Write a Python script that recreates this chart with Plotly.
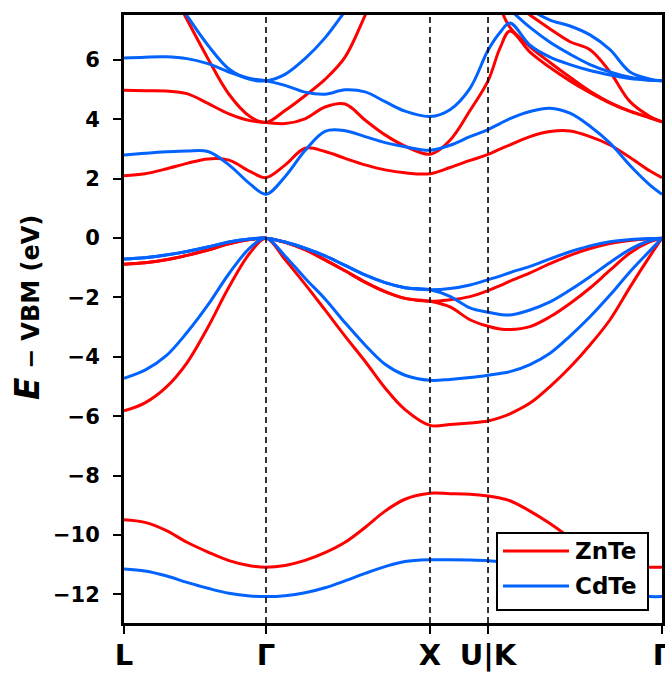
import plotly.graph_objects as go

N = None
# k-path coordinates (2*pi/a units) for the sampled points
k_path = [0.000, 0.128, 0.256, 0.384, 0.512, 0.640, 0.768, 0.866,
          0.982, 1.104, 1.226, 1.348, 1.470, 1.592, 1.714, 1.866,
          1.988, 2.110, 2.220, 2.293, 2.354, 2.476, 2.598, 2.720,
          2.842, 2.964, 3.086, 3.208, 3.281]

tick_pos = [0.0, 0.866, 1.866, 2.220, 3.281]
tick_text = ["L", "Γ", "X", "U|K", "Γ"]

# ZnTe bands (eV)
znte_s = [-9.49, -9.58, -9.85, -10.25, -10.58, -10.87, -11.04, -11.09,
          -11.03, -10.86, -10.6, -10.25, -9.75, -9.2, -8.8, -8.6,
          -8.61, -8.63, -8.69, -8.76, -8.85, -9.2, -9.62, -10.1,
          -10.55, -10.9, -11.05, -11.09, -11.09]
znte_v1 = [-5.82, -5.55, -5.03, -4.2, -3.0, -1.65, -0.5, 0,
           -0.72, -1.55, -2.42, -3.3, -4.15, -5.05, -5.78, -6.31,
           -6.28, -6.23, -6.16, -6.05, -5.92, -5.56, -5.0, -4.35,
           -3.6, -2.75, -1.65, -0.6, 0]
znte_v2 = [-0.88, -0.83, -0.73, -0.58, -0.40, -0.19, -0.05, 0,
           -0.14, -0.39, -0.73, -1.1, -1.48, -1.8, -2.03, -2.13,
           -2.32, -2.75, -2.97, -3.06, -3.08, -2.98, -2.65, -2.2,
           -1.68, -1.08, -0.5, -0.12, 0]
znte_v3 = [-0.88, -0.83, -0.73, -0.58, -0.40, -0.19, -0.05, 0,
           -0.14, -0.39, -0.73, -1.1, -1.48, -1.8, -2.03, -2.13,
           -2.08, -1.97, -1.77, -1.6, -1.45, -1.17, -0.86, -0.58,
           -0.35, -0.18, -0.08, -0.02, 0]
znte_c1 = [2.1, 2.17, 2.33, 2.52, 2.67, 2.63, 2.25, 2.04,
           2.46, 3.03, 2.92, 2.69, 2.47, 2.3, 2.2, 2.17,
           2.38, 2.62, 2.82, 3.0, 3.14, 3.42, 3.59, 3.61,
           3.42, 3.14, 2.72, 2.26, 2.04]
znte_c2 = [4.98, 4.97, 4.96, 4.87, 4.54, 4.19, 3.96, 3.9,
           3.86, 4.02, 4.42, 4.52, 3.98, 3.48, 3.1, 2.83,
           3.3, 4.3, 5.3, 6.4, 6.98, 6.27, 5.75, 5.3,
           4.9, 4.55, 4.27, 4.05, 3.92]
znte_c3 = [N, N, 8.7, 7.37, 6.05, 4.85, 4.1, 3.9,
           4.3, 4.8, 5.35, 6.1, 7.5, 9.0, N, N,
           N, N, N, N, N, N, N, N,
           N, N, N, N, N]
znte_c4 = [N, N, N, N, N, N, N, N,
           N, N, N, N, N, N, N, N,
           N, N, N, 7.8, 7.1, 6.45, 5.92, 5.42,
           4.95, 4.57, 4.28, 4.06, 3.92]
znte_c5 = [N, N, N, N, N, N, N, N,
           N, N, N, N, N, N, N, N,
           N, N, N, N, 8.0, 7.52, 7.05, 6.62,
           6.35, 5.6, 4.6, 4.1, 3.92]

# CdTe bands (eV)
cdte_s = [-11.15, -11.22, -11.38, -11.6, -11.8, -11.97, -12.06, -12.08,
          -12.05, -11.95, -11.78, -11.55, -11.3, -11.07, -10.9, -10.84,
          -10.84, -10.85, -10.87, -10.9, -10.95, -11.1, -11.3, -11.55,
          -11.78, -11.95, -12.05, -12.08, -12.08]
cdte_v1 = [-4.72, -4.45, -3.97, -3.18, -2.25, -1.2, -0.33, 0,
           -0.6, -1.35, -2.05, -2.85, -3.6, -4.25, -4.62, -4.79,
           -4.76, -4.7, -4.62, -4.56, -4.5, -4.26, -3.88, -3.3,
           -2.65, -1.92, -1.13, -0.42, 0]
cdte_v2 = [-0.70, -0.66, -0.57, -0.45, -0.30, -0.13, -0.03, 0,
           -0.13, -0.34, -0.6, -0.92, -1.24, -1.5, -1.67, -1.74,
           -1.96, -2.35, -2.5, -2.57, -2.59, -2.42, -2.15, -1.75,
           -1.3, -0.82, -0.38, -0.08, 0]
cdte_v3 = [-0.70, -0.66, -0.57, -0.45, -0.30, -0.13, -0.03, 0,
           -0.13, -0.34, -0.6, -0.92, -1.24, -1.5, -1.67, -1.74,
           -1.70, -1.58, -1.40, -1.28, -1.16, -0.95, -0.70, -0.46,
           -0.26, -0.12, -0.05, -0.01, 0]
cdte_c1 = [2.8, 2.86, 2.91, 2.94, 2.92, 2.47, 1.83, 1.48,
           2.07, 2.95, 3.6, 3.62, 3.42, 3.22, 3.08, 2.96,
           3.13, 3.42, 3.66, 3.86, 4.03, 4.27, 4.38, 4.21,
           3.77, 3.2, 2.45, 1.79, 1.48]
cdte_c3 = [6.07, 6.1, 6.11, 6.05, 5.88, 5.6, 5.38, 5.3,
           5.15, 4.92, 4.85, 5.0, 4.93, 4.6, 4.28, 4.1,
           4.33, 5.05, 6.33, 6.93, 7.25, 6.5, 6.1, 5.85,
           5.65, 5.5, 5.38, 5.32, 5.3]
cdte_c4 = [N, N, 8.6, 7.5, 6.5, 5.7, 5.35, 5.3,
           5.52, 6.05, 6.75, 7.65, 8.6, N, N, N,
           N, N, N, N, N, N, N, N,
           N, N, N, N, N]
cdte_c5 = [N, N, N, N, N, N, N, N,
           N, N, N, N, N, N, N, N,
           N, N, N, N, 7.7, 7.1, 6.6, 6.2,
           5.85, 5.6, 5.42, 5.33, 5.3]
cdte_c6 = [N, N, N, N, N, N, N, N,
           N, N, N, N, N, N, N, N,
           N, N, N, N, N, 7.7, 7.35, 7.15,
           6.85, 6.35, 5.6, 5.36, 5.3]

znte_bands = [znte_s, znte_v1, znte_v2, znte_v3, znte_c1, znte_c2,
              znte_c3, znte_c4, znte_c5]
cdte_bands = [cdte_s, cdte_v1, cdte_v2, cdte_v3, cdte_c1, cdte_c3,
              cdte_c4, cdte_c5, cdte_c6]
series_names = ["ZnTe", "CdTe"]

RED = "#ff0000"
BLUE = "#0062ff"
FONT = "DejaVu Sans"

fig = go.Figure()
for band in znte_bands:
    fig.add_trace(go.Scatter(x=k_path, y=band, mode="lines",
                             line=dict(color=RED, width=3, shape="spline"),
                             name=series_names[0], showlegend=False,
                             hoverinfo="skip"))
for band in cdte_bands:
    fig.add_trace(go.Scatter(x=k_path, y=band, mode="lines",
                             line=dict(color=BLUE, width=3, shape="spline"),
                             name=series_names[1], showlegend=False,
                             hoverinfo="skip"))

# dashed high-symmetry lines
for xv in tick_pos[1:4]:
    fig.add_shape(type="line", xref="x", yref="paper", x0=xv, x1=xv,
                  y0=0, y1=1, line=dict(color="black", width=1.6, dash="6px,4px"),
                  layer="above")

# plot area is 124..662 x 15..623 in the 665x673 window
W, H = 538.0, 608.0
def px(xp):
    return (xp - 124) / W
def py(yp):
    return (623 - yp) / H

# legend box (drawn manually to match the long legend lines)
fig.add_shape(type="rect", xref="paper", yref="paper",
              x0=px(497), x1=px(648), y0=py(610), y1=py(533),
              line=dict(color="black", width=2), fillcolor="white", layer="above")
for name, col, yl in [(series_names[0], RED, 551), (series_names[1], BLUE, 586)]:
    fig.add_shape(type="line", xref="paper", yref="paper",
                  x0=px(503), x1=px(569), y0=py(yl), y1=py(yl),
                  line=dict(color=col, width=3), layer="above")
    fig.add_annotation(xref="paper", yref="paper", x=px(573), y=py(yl),
                       xanchor="left", yanchor="middle", showarrow=False,
                       text=f"<b>{name}</b>",
                       font=dict(size=23, family=FONT, color="black"))

# y-axis title
fig.add_annotation(xref="paper", yref="paper", x=px(27), y=py(308),
                   xanchor="center", yanchor="middle", showarrow=False,
                   textangle=-90,
                   text="<b><i><span style='font-size:33px'>E</span></i> − VBM (eV)</b>",
                   font=dict(size=24, family=FONT, color="black"))

fig.update_layout(
    width=665, height=673,
    margin=dict(l=124, r=3, t=15, b=50, autoexpand=False),
    plot_bgcolor="white", paper_bgcolor="white",
    font=dict(family=FONT, color="black"),
    showlegend=False,
)
fig.update_xaxes(range=[0, 3.281], tickmode="array", tickvals=tick_pos,
                 ticktext=[f"<b>{t}</b>" for t in tick_text],
                 tickfont=dict(size=29, family=FONT),
                 ticks="outside", ticklen=8, tickwidth=2, tickcolor="black",
                 ticklabelstandoff=-4, ticklabeloverflow="allow", automargin=False,
                 showline=True, linecolor="black", linewidth=3, mirror=True,
                 showgrid=False, zeroline=False)
fig.update_yaxes(range=[-12.97, 7.52], tick0=0, dtick=2,
                 tickfont=dict(size=21, family=FONT),
                 ticks="outside", ticklen=8, tickwidth=2, tickcolor="black",
                 ticklabelstandoff=9, automargin=False,
                 showline=True, linecolor="black", linewidth=3, mirror=True,
                 showgrid=False, zeroline=False, tickprefix="<b>", ticksuffix="</b>")

fig.write_html("out.html",
               config={"displayModeBar": False, "staticPlot": True},
               post_script="document.body.style.margin='0';"
                           "document.body.style.overflow='hidden';")
